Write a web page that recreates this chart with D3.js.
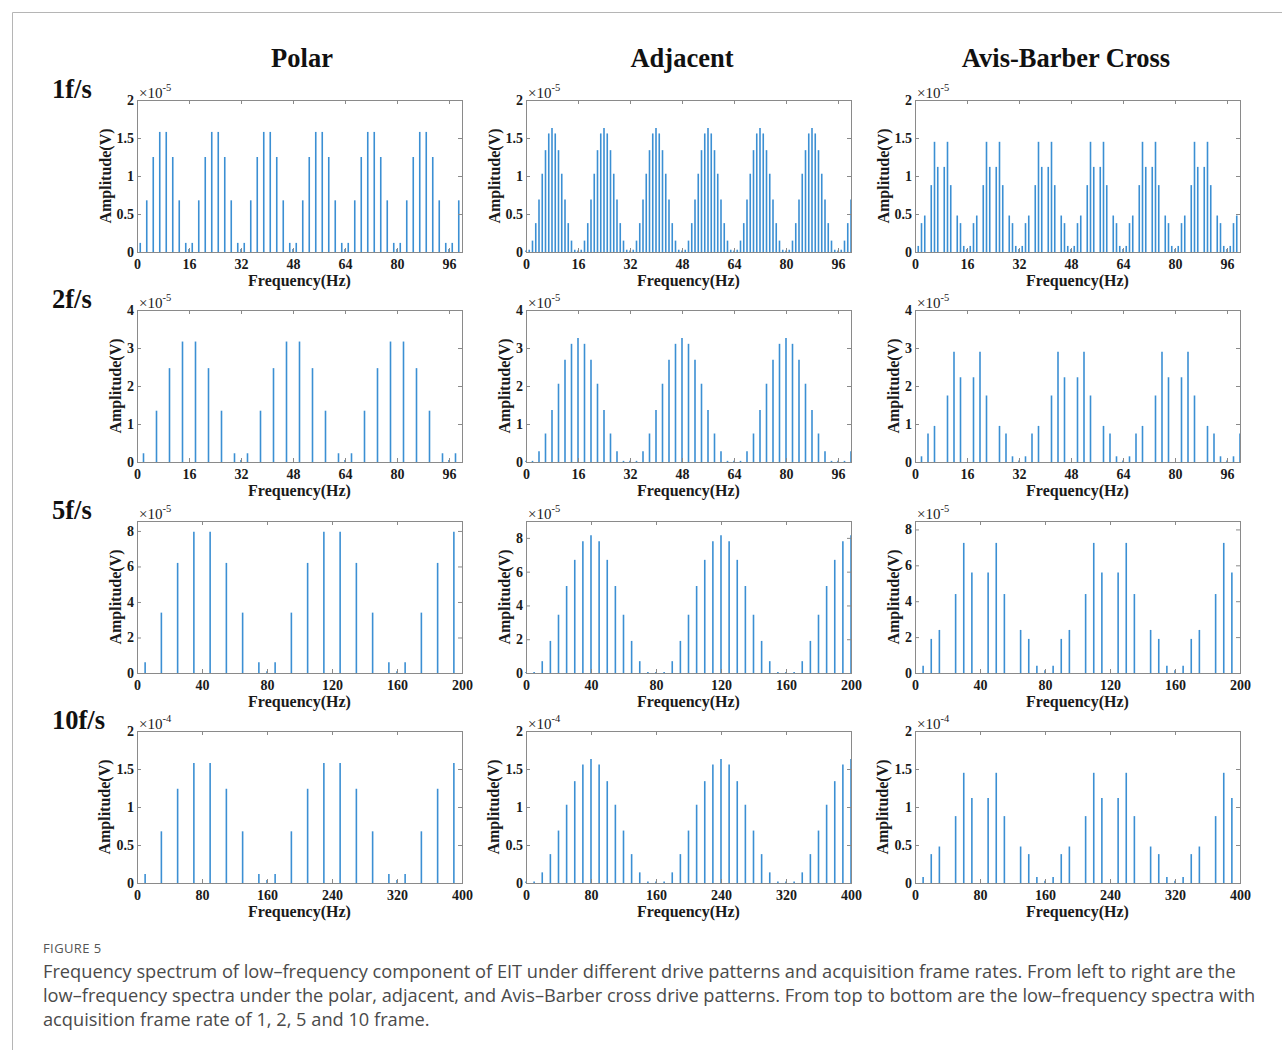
<!DOCTYPE html>
<html><head><meta charset="utf-8">
<script src="https://cdn.jsdelivr.net/npm/d3@7"></script>
<style>body{margin:0;background:#fff}svg{display:block}</style>
</head><body>
<svg id="c" width="1282" height="1050"></svg>
<script>
// ---------------- DATA ----------------
const drivePatterns = ["Polar", "Adjacent", "Avis-Barber Cross"];
const frameRates = ["1f/s", "2f/s", "5f/s", "10f/s"];
const freqStep = [1, 2, 5, 10];            // Hz between spectral bins, per row
const xMax = [100, 100, 200, 400];
const xTicks = [
  [0, 16, 32, 48, 64, 80, 96],
  [0, 16, 32, 48, 64, 80, 96],
  [0, 40, 80, 120, 160, 200],
  [0, 80, 160, 240, 320, 400]
];
const yTicks = [
  [0, 0.5, 1, 1.5, 2],
  [0, 1, 2, 3, 4],
  [0, 2, 4, 6, 8],
  [0, 0.5, 1, 1.5, 2]
];
const yMax = [[2, 2, 2], [4, 4, 4], [8.56, 9, 8.47], [2, 2, 2]];
const exponents = ["-5", "-5", "-5", "-4"];

// amplitudes (in units of the ×10^n factor), one value per bin
const polar1 = [
  0,0.12,0,0.68,0,1.25,0,1.58,0,1.58,0,1.25,0,0.68,0,0.12,
  0.04,0.12,0,0.68,0,1.25,0,1.58,0,1.58,0,1.25,0,0.68,0,0.12,
  0.04,0.12,0,0.68,0,1.25,0,1.58,0,1.58,0,1.25,0,0.68,0,0.12,
  0.04,0.12,0,0.68,0,1.25,0,1.58,0,1.58,0,1.25,0,0.68,0,0.12,
  0.04,0.12,0,0.68,0,1.25,0,1.58,0,1.58,0,1.25,0,0.68,0,0.12,
  0.04,0.12,0,0.68,0,1.25,0,1.58,0,1.58,0,1.25,0,0.68,0,0.12,
  0.04,0.12,0,0.68,0
];
const adjacent1 = [
  0.02,0.03,0.15,0.38,0.69,1.03,1.34,1.56,1.63,1.56,1.34,1.03,0.69,0.38,0.15,0.03,
  0.02,0.03,0.15,0.38,0.69,1.03,1.34,1.56,1.63,1.56,1.34,1.03,0.69,0.38,0.15,0.03,
  0.02,0.03,0.15,0.38,0.69,1.03,1.34,1.56,1.63,1.56,1.34,1.03,0.69,0.38,0.15,0.03,
  0.02,0.03,0.15,0.38,0.69,1.03,1.34,1.56,1.63,1.56,1.34,1.03,0.69,0.38,0.15,0.03,
  0.02,0.03,0.15,0.38,0.69,1.03,1.34,1.56,1.63,1.56,1.34,1.03,0.69,0.38,0.15,0.03,
  0.02,0.03,0.15,0.38,0.69,1.03,1.34,1.56,1.63,1.56,1.34,1.03,0.69,0.38,0.15,0.03,
  0.02,0.03,0.15,0.38,0.69
];
const avis1 = [
  0,0.08,0.38,0.48,0,0.88,1.45,1.12,0,1.12,1.45,0.88,0,0.48,0.38,0.08,
  0.04,0.08,0.38,0.48,0,0.88,1.45,1.12,0,1.12,1.45,0.88,0,0.48,0.38,0.08,
  0.04,0.08,0.38,0.48,0,0.88,1.45,1.12,0,1.12,1.45,0.88,0,0.48,0.38,0.08,
  0.04,0.08,0.38,0.48,0,0.88,1.45,1.12,0,1.12,1.45,0.88,0,0.48,0.38,0.08,
  0.04,0.08,0.38,0.48,0,0.88,1.45,1.12,0,1.12,1.45,0.88,0,0.48,0.38,0.08,
  0.04,0.08,0.38,0.48,0,0.88,1.45,1.12,0,1.12,1.45,0.88,0,0.48,0.38,0.08,
  0.04,0.08,0.38,0.48,0
];
const polar2 = [
  0,0.23,0,1.35,0,2.47,0,3.17,0,3.17,0,2.47,0,1.35,0,0.23,
  0.05,0.23,0,1.35,0,2.47,0,3.17,0,3.17,0,2.47,0,1.35,0,0.23,
  0.05,0.23,0,1.35,0,2.47,0,3.17,0,3.17,0,2.47,0,1.35,0,0.23,
  0.05,0.23,0
];
const adjacent2 = [
  0.03,0.03,0.28,0.75,1.37,2.06,2.69,3.11,3.26,3.11,2.69,2.06,1.37,0.75,0.28,0.03,
  0.03,0.03,0.28,0.75,1.37,2.06,2.69,3.11,3.26,3.11,2.69,2.06,1.37,0.75,0.28,0.03,
  0.03,0.03,0.28,0.75,1.37,2.06,2.69,3.11,3.26,3.11,2.69,2.06,1.37,0.75,0.28,0.03,
  0.03,0.03,0.28
];
const avis2 = [
  0,0.15,0.75,0.95,0,1.75,2.9,2.23,0,2.23,2.9,1.75,0,0.95,0.75,0.15,
  0.04,0.15,0.75,0.95,0,1.75,2.9,2.23,0,2.23,2.9,1.75,0,0.95,0.75,0.15,
  0.04,0.15,0.75,0.95,0,1.75,2.9,2.23,0,2.23,2.9,1.75,0,0.95,0.75,0.15,
  0.04,0.15,0.75
];
const polar5 = [
  0,0.6,0,3.4,0,6.2,0,7.95,0,7.95,0,6.2,0,3.4,0,0.6,
  0.1,0.6,0,3.4,0,6.2,0,7.95,0,7.95,0,6.2,0,3.4,0,0.6,
  0.1,0.6,0,3.4,0,6.2,0,7.95,0
];
const adjacent5 = [
  0.06,0.06,0.7,1.9,3.45,5.15,6.7,7.8,8.15,7.8,6.7,5.15,3.45,1.9,0.7,0.06,
  0.06,0.06,0.7,1.9,3.45,5.15,6.7,7.8,8.15,7.8,6.7,5.15,3.45,1.9,0.7,0.06,
  0.06,0.06,0.7,1.9,3.45,5.15,6.7,7.8,8.15
];
const avis5 = [
  0,0.4,1.9,2.4,0,4.4,7.25,5.6,0,5.6,7.25,4.4,0,2.4,1.9,0.4,
  0.15,0.4,1.9,2.4,0,4.4,7.25,5.6,0,5.6,7.25,4.4,0,2.4,1.9,0.4,
  0.15,0.4,1.9,2.4,0,4.4,7.25,5.6,0
];
const polar10 = [
  0,0.12,0,0.68,0,1.24,0,1.58,0,1.58,0,1.24,0,0.68,0,0.12,
  0.04,0.12,0,0.68,0,1.24,0,1.58,0,1.58,0,1.24,0,0.68,0,0.12,
  0.04,0.12,0,0.68,0,1.24,0,1.58,0
];
const adjacent10 = [
  0.02,0.02,0.14,0.38,0.69,1.03,1.34,1.56,1.63,1.56,1.34,1.03,0.69,0.38,0.14,0.02,
  0.02,0.02,0.14,0.38,0.69,1.03,1.34,1.56,1.63,1.56,1.34,1.03,0.69,0.38,0.14,0.02,
  0.02,0.02,0.14,0.38,0.69,1.03,1.34,1.56,1.63
];
const avis10 = [
  0,0.08,0.38,0.48,0,0.88,1.45,1.12,0,1.12,1.45,0.88,0,0.48,0.38,0.08,
  0.03,0.08,0.38,0.48,0,0.88,1.45,1.12,0,1.12,1.45,0.88,0,0.48,0.38,0.08,
  0.03,0.08,0.38,0.48,0,0.88,1.45,1.12,0
];
const spectra = [
  [polar1, adjacent1, avis1],
  [polar2, adjacent2, avis2],
  [polar5, adjacent5, avis5],
  [polar10, adjacent10, avis10]
];

const captionLabel = "FIGURE 5";
const captionLines = [
  "Frequency spectrum of low\u2013frequency component of EIT under different drive patterns and acquisition frame rates. From left to right are the",
  "low\u2013frequency spectra under the polar, adjacent, and Avis\u2013Barber cross drive patterns. From top to bottom are the low\u2013frequency spectra with",
  "acquisition frame rate of 1, 2, 5 and 10 frame."
];

// ---------------- LAYOUT ----------------
const svg = d3.select("#c");
const serif = "'Liberation Serif','Times New Roman',serif";
const sans = "'Open Sans','Noto Sans',sans-serif";
const stemColor = "#3b8fd3";
const frameColor = "#8a8a8a";
const colLeft = [137, 526, 915];
const rowTop = [100, 310, 521, 731];
const W = 325, H = 152;
const titleX = [302, 682, 1066];
const yLabelOffset = [26, 16, 16, 27];

svg.append("rect").attr("width", 1282).attr("height", 1050).attr("fill", "#fff");
// outer border
svg.append("path").attr("d", "M12.5,1050 V12.5 H1282").attr("fill", "none")
  .attr("stroke", "#b5b5b5").attr("stroke-width", 1);

// column titles
drivePatterns.forEach((t, c) => {
  svg.append("text").attr("x", titleX[c]).attr("y", 67).attr("text-anchor", "middle")
    .attr("font-family", serif).attr("font-weight", "bold").attr("font-size", 26.5)
    .attr("fill", "#111").text(t);
});
// row labels
frameRates.forEach((t, r) => {
  svg.append("text").attr("x", 52).attr("y", rowTop[r] - 2).attr("font-family", serif)
    .attr("font-weight", "bold").attr("font-size", 26.5).attr("fill", "#111").text(t);
});

const fmt = v => (v === 0 ? "0" : String(v));

spectra.forEach((row, r) => {
  row.forEach((vals, c) => {
    const L = colLeft[c], T = rowTop[r];
    const g = svg.append("g").attr("transform", `translate(${L},${T})`);
    const x = d3.scaleLinear().domain([0, xMax[r]]).range([0, W]);
    const y = d3.scaleLinear().domain([0, yMax[r][c]]).range([H, 0]);
    const pts = vals.map((v, i) => ({ f: i * freqStep[r], v })).filter(d => d.v > 0);

    g.append("g").selectAll("line").data(pts).join("line")
      .attr("x1", d => x(d.f)).attr("x2", d => x(d.f))
      .attr("y1", y(0)).attr("y2", d => y(d.v))
      .attr("stroke", stemColor).attr("stroke-width", 1.6);

    const styleAxis = sel => {
      sel.select(".domain").remove();
      sel.selectAll(".tick line").attr("stroke", frameColor);
      sel.selectAll(".tick text").attr("font-family", serif).attr("font-weight", "bold")
        .attr("font-size", 14).attr("fill", "#1a1a1a");
    };
    g.append("g").attr("transform", `translate(0,${H})`)
      .call(d3.axisBottom(x).tickValues(xTicks[r]).tickSizeInner(-4).tickSizeOuter(0).tickPadding(7).tickFormat(fmt))
      .call(styleAxis);
    g.append("g")
      .call(d3.axisTop(x).tickValues(xTicks[r]).tickSizeInner(-4).tickSizeOuter(0).tickFormat(""))
      .call(styleAxis);
    g.append("g")
      .call(d3.axisLeft(y).tickValues(yTicks[r]).tickSizeInner(-4).tickSizeOuter(0).tickPadding(3).tickFormat(fmt))
      .call(styleAxis);
    g.append("g").attr("transform", `translate(${W},0)`)
      .call(d3.axisRight(y).tickValues(yTicks[r]).tickSizeInner(-4).tickSizeOuter(0).tickFormat(""))
      .call(styleAxis);

    g.append("rect").attr("x", 0.5).attr("y", 0.5).attr("width", W).attr("height", H)
      .attr("fill", "none").attr("stroke", frameColor).attr("stroke-width", 1);

    // exponent
    const ex = g.append("text").attr("x", 2).attr("y", -2).attr("font-family", serif)
      .attr("font-size", 15).attr("fill", "#1a1a1a");
    ex.append("tspan").text("\u00d710");
    ex.append("tspan").attr("dy", -7).attr("font-size", 10.5).text(exponents[r]);

    // axis labels
    g.append("text").attr("x", W / 2).attr("y", H + 34).attr("text-anchor", "middle")
      .attr("font-family", serif).attr("font-weight", "bold").attr("font-size", 16)
      .attr("fill", "#1a1a1a").text("Frequency(Hz)");
    g.append("text").attr("transform", `translate(${-yLabelOffset[r]},${H / 2}) rotate(-90)`)
      .attr("text-anchor", "middle").attr("font-family", serif).attr("font-weight", "bold")
      .attr("font-size", 16).attr("fill", "#1a1a1a").text("Amplitude(V)");
  });
});

// caption
svg.append("text").attr("x", 43).attr("y", 953).attr("font-family", sans)
  .attr("font-size", 13).attr("letter-spacing", 0.4).attr("fill", "#555").text(captionLabel);
const capSel = captionLines.map((t, i) => svg.append("text").attr("x", 43).attr("y", 978 + i * 24)
  .attr("font-family", sans).attr("font-size", 16).attr("fill", "#4a4a4a").text(t));
const w0 = capSel[0].node().getComputedTextLength();
const fs = 16 * 1194 / w0;
capSel.forEach(s => s.attr("font-size", fs));
</script>
</body></html>
